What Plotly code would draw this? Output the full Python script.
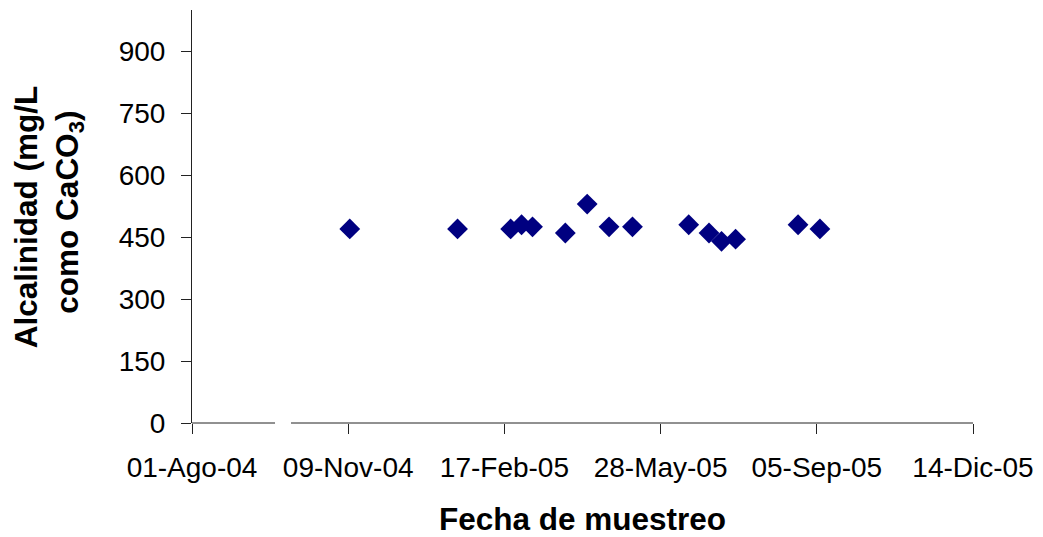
import plotly.graph_objects as go

fechas = ["2004-11-10", "2005-01-18", "2005-02-21", "2005-02-28", "2005-03-07",
          "2005-03-28", "2005-04-11", "2005-04-25", "2005-05-10", "2005-06-15",
          "2005-06-28", "2005-07-06", "2005-07-15", "2005-08-24", "2005-09-07"]
alcalinidad = [470, 470, 470, 480, 475, 460, 530, 475, 475, 480, 460, 440, 445, 480, 470]

x_tick_vals = ["2004-08-01", "2004-11-09", "2005-02-17", "2005-05-28", "2005-09-05", "2005-12-14"]
x_tick_text = ["01-Ago-04", "09-Nov-04", "17-Feb-05", "28-May-05", "05-Sep-05", "14-Dic-05"]
y_tick_vals = [0, 150, 300, 450, 600, 750, 900]

y_title_1 = "<b>Alcalinidad (mg/L</b>"
y_title_2 = "<b>como CaCO<sub>3</sub>)</b>"
x_title = "<b>Fecha de muestreo</b>"

FONT = "Liberation Sans, Arial, sans-serif"

fig = go.Figure()
fig.add_trace(go.Scatter(
    x=fechas, y=alcalinidad, mode="markers",
    marker=dict(symbol="diamond", size=16, color="#000080", line=dict(width=0)),
    showlegend=False,
))

# page has an 8px body margin, so the figure is 8px smaller than the window
fig.update_layout(
    width=1035, height=529,
    margin=dict(l=184, r=70, t=2, b=114, pad=0),
    paper_bgcolor="white", plot_bgcolor="white",
    font=dict(family=FONT, size=28, color="black"),
    xaxis=dict(
        type="date", range=["2004-08-01", "2005-12-14"],
        tickmode="array", tickvals=x_tick_vals, ticktext=x_tick_text,
        ticks="outside", ticklen=10, tickcolor="#222", tickwidth=1,
        ticklabelstandoff=9,
        showline=False, showgrid=False, zeroline=False,
        tickfont=dict(size=28, family=FONT),
        title=dict(text=x_title, font=dict(size=31.5, family=FONT), standoff=31),
    ),
    yaxis=dict(
        range=[0, 1000], tickmode="array", tickvals=y_tick_vals,
        ticks="outside", ticklen=10, tickcolor="#222", tickwidth=1,
        ticklabelstandoff=10,
        showline=True, linecolor="#222", linewidth=1,
        showgrid=False, zeroline=False,
        tickfont=dict(size=28, family=FONT),
    ),
)

fig.add_annotation(text=y_title_1, xref="paper", yref="paper", x=-0.2126, y=0.5004,
                   xanchor="center", yanchor="middle", textangle=-90, showarrow=False,
                   font=dict(size=31.5, family=FONT, color="black"))
fig.add_annotation(text=y_title_2, xref="paper", yref="paper", x=-0.1566, y=0.511,
                   xanchor="center", yanchor="middle", textangle=-90, showarrow=False,
                   font=dict(size=31.5, family=FONT, color="black"))

# x-axis line with a break
fig.add_shape(type="line", xref="paper", yref="paper", x0=0, x1=0.1063, y0=0, y1=0,
              line=dict(color="#222", width=1))
fig.add_shape(type="line", xref="paper", yref="paper", x0=0.1268, x1=1, y0=0, y1=0,
              line=dict(color="#222", width=1))

fig.write_html("out.html")
